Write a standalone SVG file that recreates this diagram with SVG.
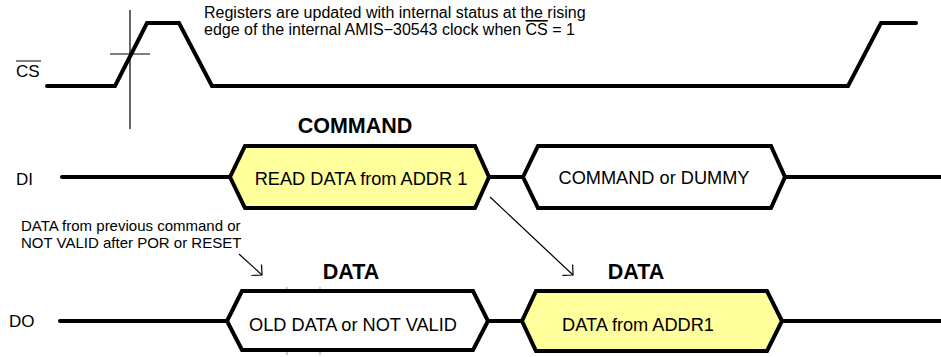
<svg xmlns="http://www.w3.org/2000/svg" width="941" height="357" viewBox="0 0 941 357">
<style>
  text { font-family: "Liberation Sans", Arial, sans-serif; fill: #000; }
  .sig { fill: none; stroke: #000; stroke-width: 4; stroke-linecap: round; stroke-linejoin: miter; }
  .hex { stroke: #000; stroke-width: 4; stroke-linejoin: miter; }
  .yel { fill: #FFFF9C; }
  .wht { fill: #FFFFFF; }
  .thin { fill: none; stroke: #000; stroke-width: 1.2; }
  .note { font-size: 16px; }
  .note2 { font-size: 15px; }
  .lbl { font-size: 17px; }
  .hdr { font-size: 21.5px; font-weight: bold; }
  .htxt { font-size: 18.2px; text-anchor: middle; }
  .tick { stroke: #999; stroke-width: 1; }
</style>
<defs>
  <marker id="openArrow" markerUnits="userSpaceOnUse" markerWidth="20" markerHeight="20" refX="0" refY="0" viewBox="-10 -10 20 20" orient="auto" overflow="visible">
    <path d="M -7.5 -7.5 L 0 0 L -7.5 7.5" fill="none" stroke="#000" stroke-width="1.2"/>
  </marker>
</defs>

<!-- CS signal -->
<g id="cs-signal">
  <polyline class="sig" points="47,86 115,86 147,23 179,23 212,86 848,86 881,23 916,23"/>
  <line class="thin" x1="130" y1="10" x2="130" y2="129"/>
  <line class="thin" x1="110" y1="54" x2="150" y2="54"/>
  <text class="lbl" x="16" y="77" font-size="17.5">CS</text>
  <line x1="16" y1="61" x2="41" y2="61" stroke="#000" stroke-width="1"/>
</g>

<g id="note-top">
  <text class="note" x="204" y="18">Registers are updated with internal status at the rising</text>
  <text class="note" x="204" y="35">edge of the internal AMIS−30543 clock when <tspan text-decoration="overline">CS</tspan> = 1</text>
</g>

<!-- DI signal lines -->
<g id="di-signal">
  <text class="lbl" x="16" y="185">DI</text>
  <line class="sig" x1="62" y1="177" x2="230" y2="177"/>
  <line class="sig" x1="489" y1="177" x2="523" y2="177"/>
  <line class="sig" x1="785" y1="177" x2="945" y2="177"/>
</g>

<!-- DO signal lines -->
<g id="do-signal">
  <text class="lbl" x="9" y="327">DO</text>
  <line class="sig" x1="60" y1="321" x2="227" y2="321"/>
  <line class="sig" x1="488" y1="321" x2="522" y2="321"/>
  <line class="sig" x1="782" y1="321" x2="945" y2="321"/>
</g>

<g id="label-command">
  <text class="hdr" x="355" y="133" text-anchor="middle">COMMAND</text>
</g>

<g id="node-read-data">
  <polygon class="hex yel" points="230,177 245,146 475,146 489,177 475,208 245,208"/>
  <text class="htxt" x="361" y="185">READ DATA from ADDR 1</text>
</g>

<g id="node-command-dummy">
  <polygon class="hex wht" points="523,177 538,146 771,146 785,177 771,208 538,208"/>
  <text class="htxt" x="654" y="184">COMMAND or DUMMY</text>
</g>

<g id="note-left">
  <text class="note2" x="21" y="231">DATA from previous command or</text>
  <text class="note2" x="21" y="248">NOT VALID after POR or RESET</text>
</g>

<g id="label-data-1">
  <text class="hdr" x="351" y="279" text-anchor="middle">DATA</text>
</g>
<g id="label-data-2">
  <text class="hdr" x="636" y="279" text-anchor="middle">DATA</text>
</g>

<g id="node-old-data">
  <line class="tick" x1="287" y1="287" x2="287" y2="355"/>
  <line class="tick" x1="320" y1="287" x2="320" y2="355"/>
  <polygon class="hex wht" points="227,321 242,291 473,291 488,321 473,350 242,350"/>
  <text class="htxt" x="353" y="331">OLD DATA or NOT VALID</text>
</g>

<g id="node-data-addr1">
  <polygon class="hex yel" points="522,321 536,291 767,291 782,321 767,351 536,351"/>
  <text class="htxt" x="638" y="331">DATA from ADDR1</text>
</g>

<!-- connectors -->
<g id="connectors">
  <line class="thin" x1="490" y1="197" x2="573" y2="275" marker-end="url(#openArrow)"/>
  <line class="thin" x1="239" y1="254" x2="262" y2="275" marker-end="url(#openArrow)"/>
</g>
</svg>
